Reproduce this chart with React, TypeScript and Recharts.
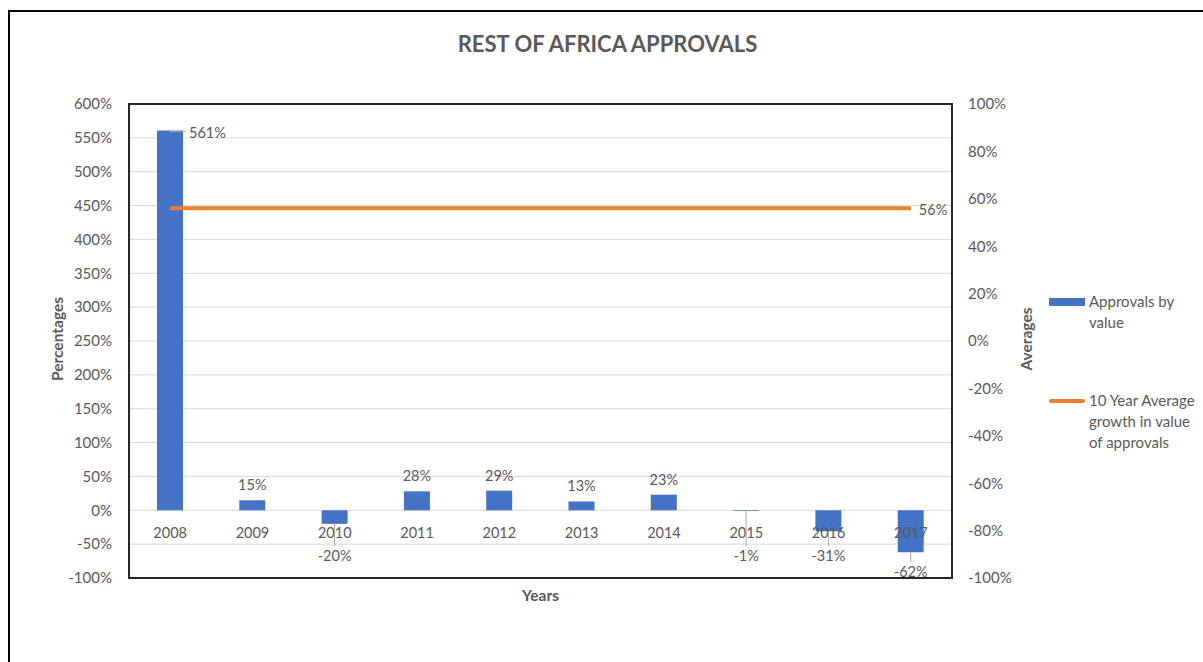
import React from 'react';
import {
  ComposedChart,
  Bar,
  Line,
  XAxis,
  YAxis,
  CartesianGrid,
  LabelList,
  ReferenceArea,
} from 'recharts';

// Year-on-year growth in value of approvals, in percent
const years = ['2008', '2009', '2010', '2011', '2012', '2013', '2014', '2015', '2016', '2017'];
const approvalsByValue = [561, 15, -20, 28, 29, 13, 23, -1, -31, -62];
const tenYearAverage = [56, 56, 56, 56, 56, 56, 56, 56, 56, 56];

const leftTicks = [-100, -50, 0, 50, 100, 150, 200, 250, 300, 350, 400, 450, 500, 550, 600];
const rightTicks = [-100, -80, -60, -40, -20, 0, 20, 40, 60, 80, 100];
const LEFT_DOMAIN: [number, number] = [-100, 600];

const data = years.map((year, i) => ({
  year,
  approvals: approvalsByValue[i],
  average: tenYearAverage[i],
}));

const FONT = 'Lato, "Open Sans", sans-serif';
const TEXT = '#595959';
const BLUE = '#4472C4';
const ORANGE = '#ED7D31';

const WIDTH = 1195;
const HEIGHT = 652;
const MARGIN = { top: 94, right: 191, bottom: 54, left: 51 };
const PLOT_HEIGHT = HEIGHT - MARGIN.top - MARGIN.bottom - 30;
// distance from the plot bottom up to the 0% line
const ZERO_RISE = (PLOT_HEIGHT * (0 - LEFT_DOMAIN[0])) / (LEFT_DOMAIN[1] - LEFT_DOMAIN[0]);

const pct = (v: number) => `${v}%`;

// category labels sit just under the 0% line, like an Excel axis crossing at zero
const YearTick = (props: any) => {
  const { x, y, payload } = props;
  return (
    <text
      x={x}
      y={y - ZERO_RISE + 20}
      textAnchor="middle"
      fill={TEXT}
      fontSize={14.5}
      fontFamily={FONT}
    >
      {payload.value}
    </text>
  );
};

const BarValueLabel = (props: any) => {
  const { x, y, width, height, value } = props;
  const top = Math.min(y, y + height);
  const bottom = Math.max(y, y + height);
  const cx = x + width / 2;
  if (value > 500) {
    // too tall to fit above: put it beside the bar with a short leader
    return (
      <g>
        <line x1={cx} y1={top + 1} x2={x + width + 2} y2={top + 1} stroke="#a6a6a6" strokeWidth={1} />
        <text x={x + width + 6} y={top + 8} fill={TEXT} fontSize={14.5} fontFamily={FONT}>
          {pct(value)}
        </text>
      </g>
    );
  }
  if (value >= 0) {
    return (
      <text x={cx} y={top - 10} textAnchor="middle" fill={TEXT} fontSize={14.5} fontFamily={FONT}>
        {pct(value)}
      </text>
    );
  }
  // negative labels are pushed below the year labels
  const zero = top;
  const labelY = Math.max(bottom + 20, zero + 46);
  const gap = labelY - 10 - bottom;
  return (
    <g>
      {gap > 8 && (
        <line x1={cx} y1={bottom} x2={cx} y2={labelY - 10} stroke="#a6a6a6" strokeWidth={1} />
      )}
      <text x={cx} y={labelY + 5} textAnchor="middle" fill={TEXT} fontSize={14.5} fontFamily={FONT}>
        {pct(value)}
      </text>
    </g>
  );
};

const AverageLabel = (props: any) => {
  const { x, y, value, index } = props;
  if (index !== years.length - 1) return null;
  return (
    <text x={x + 8} y={y + 7} fill={TEXT} fontSize={14.5} fontFamily={FONT}>
      {pct(value)}
    </text>
  );
};

const App: React.FC = () => {
  return (
    <div
      style={{
        position: 'absolute',
        left: 8,
        top: 10,
        width: WIDTH,
        height: HEIGHT,
        overflow: 'hidden',
        background: '#fff',
        fontFamily: FONT,
      }}
    >
      <div
        style={{
          position: 'absolute',
          left: 0,
          top: 0,
          width: 1400,
          height: 900,
          borderLeft: '2px solid #000',
          borderTop: '2px solid #000',
        }}
      />
      <div
        style={{
          position: 'absolute',
          left: 0,
          width: 1199,
          top: 20,
          textAlign: 'center',
          fontSize: 22,
          fontWeight: 700,
          color: TEXT,
        }}
      >
        REST OF AFRICA APPROVALS
      </div>
      <div
        style={{
          position: 'absolute',
          left: 49 - 100,
          top: 330 - 10,
          width: 200,
          textAlign: 'center',
          transform: 'rotate(-90deg)',
          fontSize: 15.5,
          fontWeight: 700,
          color: TEXT,
        }}
      >
        Percentages
      </div>
      <div
        style={{
          position: 'absolute',
          left: 1018 - 100,
          top: 330 - 10,
          width: 200,
          textAlign: 'center',
          transform: 'rotate(-90deg)',
          fontSize: 15.5,
          fontWeight: 700,
          color: TEXT,
        }}
      >
        Averages
      </div>
      <div
        style={{
          position: 'absolute',
          left: 121,
          width: 823,
          top: 576,
          textAlign: 'center',
          fontSize: 15.5,
          fontWeight: 700,
          color: TEXT,
        }}
      >
        Years
      </div>

      <ComposedChart width={WIDTH} height={HEIGHT} data={data} margin={MARGIN}>
        <CartesianGrid yAxisId="left" vertical={false} stroke="#d9d9d9" />
        <XAxis
          dataKey="year"
          height={30}
          axisLine={false}
          tickLine={false}
          tick={<YearTick />}
          interval={0}
        />
        <YAxis
          yAxisId="left"
          width={70}
          domain={LEFT_DOMAIN}
          ticks={leftTicks}
          tickFormatter={pct}
          axisLine={false}
          tickLine={false}
          tickMargin={11}
          tick={{ fill: TEXT, fontSize: 15, fontFamily: FONT }}
          interval={0}
        />
        <YAxis
          yAxisId="right"
          orientation="right"
          width={60}
          domain={[-100, 100]}
          ticks={rightTicks}
          tickFormatter={pct}
          axisLine={false}
          tickLine={false}
          tickMargin={10}
          tick={{ fill: TEXT, fontSize: 15, fontFamily: FONT, textAnchor: 'start' }}
          interval={0}
        />
        <ReferenceArea
          yAxisId="left"
          y1={LEFT_DOMAIN[0]}
          y2={LEFT_DOMAIN[1]}
          fill="none"
          stroke="#262626"
          strokeWidth={2}
        />
        <Bar
          yAxisId="left"
          dataKey="approvals"
          fill={BLUE}
          barSize={26}
          isAnimationActive={false}
        >
          <LabelList dataKey="approvals" content={<BarValueLabel />} />
        </Bar>
        <Line
          yAxisId="right"
          dataKey="average"
          stroke={ORANGE}
          strokeWidth={4}
          dot={false}
          activeDot={false}
          isAnimationActive={false}
        >
          <LabelList dataKey="average" content={<AverageLabel />} />
        </Line>
      </ComposedChart>

      <div style={{ position: 'absolute', left: 1041, top: 281, color: TEXT, fontSize: 15 }}>
        <div style={{ display: 'flex', alignItems: 'flex-start' }}>
          <div style={{ width: 36, height: 8, background: BLUE, marginTop: 7, marginRight: 4 }} />
          <div style={{ lineHeight: '21px' }}>
            Approvals by
            <br />
            value
          </div>
        </div>
        <div style={{ display: 'flex', alignItems: 'flex-start', marginTop: 57 }}>
          <div
            style={{
              width: 36,
              height: 4,
              background: ORANGE,
              borderRadius: 2,
              marginTop: 9,
              marginRight: 4,
            }}
          />
          <div style={{ lineHeight: '21px' }}>
            10 Year Average
            <br />
            growth in value
            <br />
            of approvals
          </div>
        </div>
      </div>
    </div>
  );
};

export default App;
